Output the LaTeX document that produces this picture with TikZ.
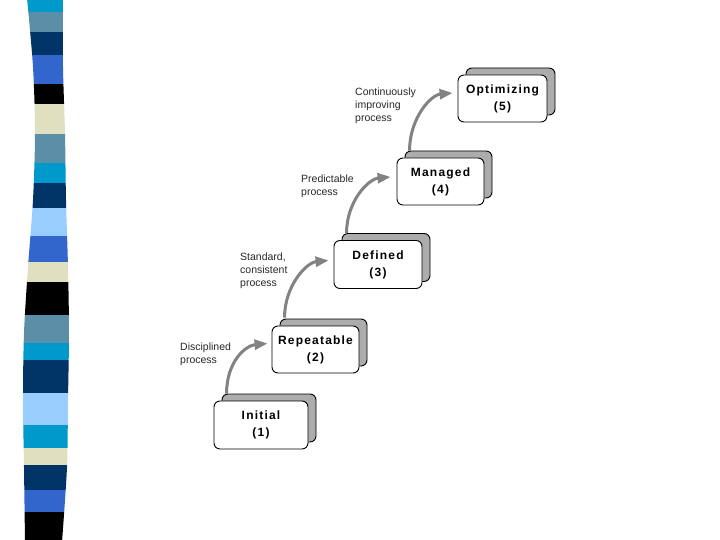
\documentclass[tikz,border=0pt]{standalone}
\usepackage{fontspec}
\setmainfont{Liberation Sans}
\usetikzlibrary{arrows.meta,shadows}
\definecolor{scyan}{HTML}{0099CC}
\definecolor{ssteel}{HTML}{5B8FA8}
\definecolor{snavy}{HTML}{003366}
\definecolor{sroyal}{HTML}{3366CC}
\definecolor{sbeige}{HTML}{E0E0C0}
\definecolor{slight}{HTML}{99CCFF}
\definecolor{shadowgray}{RGB}{172,172,172}
\definecolor{arrowgray}{RGB}{130,130,130}
\definecolor{labelgray}{RGB}{40,40,40}
\tikzset{
  stagebox/.style={draw=black, fill=white, line width=0.9pt, rounded corners=6pt,
    minimum width=88pt, minimum height=48pt, align=center, inner sep=0pt,
    font=\fontsize{12}{17}\selectfont\bfseries\addfontfeatures{LetterSpace=10},
    general shadow={shadow xshift=8pt, shadow yshift=7pt, fill=shadowgray, draw=black, line width=0.9pt}},
  steplabel/.style={anchor=west, align=left, inner sep=0pt, text=labelgray,
    font=\fontsize{10.5}{13}\selectfont},
  climb/.style={draw=arrowgray, line width=3pt, -{Triangle[length=13pt,width=10pt]}}
}
\begin{document}
\begin{tikzpicture}[x=1pt,y=-1pt]
\useasboundingbox (0,0) rectangle (720,540);
\fill[white] (0,0) rectangle (720,540);
% striped bar
\begin{scope}
\clip plot[smooth] coordinates {(27,-2) (33,67) (35,133) (33,200) (28,267) (24,333) (23,400) (24,467) (25,542)}
  -- plot[smooth] coordinates {(62,542) (67,467) (68,400) (69,333) (68,267) (66,200) (65,133) (63,67) (63,-2)} -- cycle;
\foreach \ya/\yb/\c in {-2/12/scyan, 12/32/ssteel, 32/55/snavy, 55/84/sroyal, 84/104/black,
  104/134/sbeige, 134/163/ssteel, 163/183/scyan, 183/208/snavy, 208/236/slight,
  236/262/sroyal, 262/282/sbeige, 282/315/black, 315/343/ssteel, 343/360/scyan,
  360/393/snavy, 393/425/slight, 425/448/scyan, 448/465/sbeige, 465/490/snavy,
  490/512/sroyal, 512/542/black}
  \fill[\c] (0,\ya) rectangle (100,\yb);
\end{scope}
% stages
\node[stagebox, minimum width=94pt] (s1) at (261,425) {Initial\\(1)};
\node[stagebox, minimum width=87pt, minimum height=47pt] (s2) at (315.5,349.5) {Repeatable\\(2)};
\node[stagebox] (s3) at (378,264.5) {Defined\\(3)};
\node[stagebox, minimum width=87pt, minimum height=47pt] (s4) at (440.5,181.5) {Managed\\(4)};
\node[stagebox, minimum width=89pt, minimum height=47pt] (s5) at (502.5,98.5) {Optimizing\\(5)};
% arrows
\draw[climb] ([shift={(13,-7)}]s1.north west) .. controls +(0,-32) and +(-22,2) .. ([shift={(-4,-6)}]s2.west);
\draw[climb] ([shift={(13,-8)}]s2.north west) .. controls +(0,-32) and +(-22,2) .. ([shift={(-5,-4)}]s3.west);
\draw[climb] ([shift={(13,-7)}]s3.north west) .. controls +(0,-32) and +(-22,2) .. ([shift={(-6,-4.5)}]s4.west);
\draw[climb] ([shift={(13,-7)}]s4.north west) .. controls +(0,-32) and +(-22,2) .. ([shift={(-5,-5.5)}]s5.west);
% labels
\node[steplabel] (l1) at (180,354) {Disciplined\\process};
\node[steplabel] (l2) at (240,271) {Standard,\\consistent\\process};
\node[steplabel] (l3) at (301,186.5) {Predictable\\process};
\node[steplabel] (l4) at (355,106) {Continuously\\improving\\process};
\end{tikzpicture}
\end{document}
